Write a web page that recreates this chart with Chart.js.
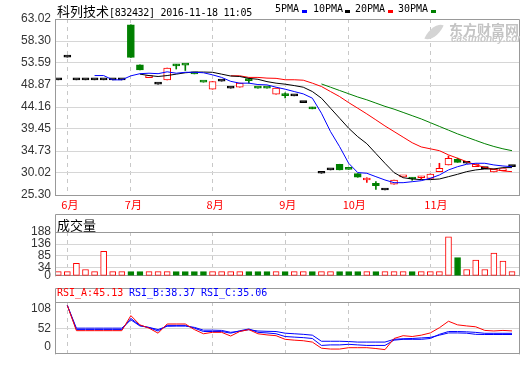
<!DOCTYPE html>
<html>
<head>
<meta charset="utf-8">
<script src="https://cdn.jsdelivr.net/npm/chart.js@4.4.0/dist/chart.umd.min.js"></script>
<style>
body { margin: 0; background: #fff; }
#box { position: relative; width: 520px; height: 365px; overflow: hidden; }
canvas { position: absolute; left: 0; }
.t { position: absolute; white-space: nowrap; line-height: 16px; }
.mono { font: 10px 'DejaVu Sans Mono', monospace; }
.cjk { font: 13px 'Noto Sans CJK SC'; }
.sw { position: absolute; width: 5px; height: 3px; top: 10px; }
</style>
</head>
<body>
<div id="box">
  <canvas id="mainChart" width="520" height="214" style="top:0"></canvas>
  <canvas id="volChart" width="520" height="73" style="top:214px"></canvas>
  <canvas id="rsiChart" width="520" height="78" style="top:287px"></canvas>

  <div class="t" style="left:57px;top:1px"><span class="cjk">科列技术</span><span class="mono" style="letter-spacing:-0.3px">[832432] 2016-11-18 11:05</span></div>

  <div class="t mono" style="left:275px;top:3px">5PMA</div><div class="sw" style="left:302px;background:#00f"></div>
  <div class="t mono" style="left:313px;top:3px">10PMA</div><div class="sw" style="left:345px;background:#000"></div>
  <div class="t mono" style="left:355px;top:3px">20PMA</div><div class="sw" style="left:388px;background:#f00"></div>
  <div class="t mono" style="left:398px;top:3px">30PMA</div><div class="sw" style="left:431px;background:#008000"></div>

  <div style="position:absolute;left:428px;top:22px;width:12px;height:20px;background:#d4d4d4;border-radius:100% 0 100% 0;transform:rotate(25deg)"></div>
  <div class="t" style="left:449px;top:19px;font:bold 14px 'Noto Sans CJK SC';color:#c4c4c4">东方财富网</div>
  <div class="t" style="left:451px;top:33px;font:italic bold 10px 'Liberation Sans';color:#c8c8c8">eastmoney.com</div>

  <div class="t cjk" style="left:57px;top:215px">成交量</div>

  <div class="t mono" style="left:57px;top:287px;color:#f00">RSI_A:45.13</div>
  <div class="t mono" style="left:129px;top:287px;color:#00f">RSI_B:38.37</div>
  <div class="t mono" style="left:201px;top:287px;color:#00f">RSI_C:35.06</div>
</div>
<script>
// month axis
const monthStarts = [1, 8, 17, 25, 32, 41];
const monthNames = ['6月', '7月', '8月', '9月', '10月', '11月'];

// tick labels
const priceTicks = [25.30, 30.02, 34.73, 39.45, 44.16, 48.87, 53.59, 58.30, 63.02];
const volTicks = [0, 34, 85, 136, 188];
const rsiTicks = [0, 52, 108];

// daily candles
const open = [49.98, 54.85, 49.98, 49.98, 49.98, 49.98, 49.98, 49.98, 61.78, 53.20,
  50.46, 49.05, 49.98, 52.99, 53.14, 51.30, 49.50, 47.98, 49.70, 48.20,
  48.41, 49.84, 48.21, 48.21, 46.91, 46.62, 46.55, 45.10, 44.12, 29.96,
  30.67, 31.89, 30.82, 29.87, 28.51, 27.81, 26.37, 27.60, 29.19, 28.74,
  29.00, 28.88, 30.30, 31.74, 32.96, 32.10, 31.37, 30.95, 30.25, 30.54, 31.37];
const high = [49.98, 54.85, 49.98, 49.98, 49.98, 49.98, 49.98, 49.98, 61.78, 53.20,
  50.48, 49.05, 52.49, 53.30, 53.14, 51.30, 49.50, 49.62, 49.70, 48.20,
  49.27, 50.26, 48.21, 48.21, 48.20, 47.19, 46.55, 45.10, 44.12, 29.96,
  30.67, 31.89, 30.82, 29.87, 29.00, 28.15, 26.37, 28.52, 29.21, 29.00,
  29.30, 29.81, 32.10, 33.67, 33.20, 32.10, 31.95, 30.95, 30.88, 30.56, 31.37];
const low = [49.98, 54.85, 49.98, 49.98, 49.98, 49.98, 49.98, 49.98, 54.81, 52.13,
  50.46, 49.05, 49.98, 52.30, 51.98, 51.25, 49.48, 47.98, 49.70, 48.20,
  48.41, 49.27, 48.19, 48.19, 46.91, 46.12, 46.55, 45.10, 43.76, 29.96,
  30.67, 30.67, 30.80, 29.10, 28.00, 26.52, 26.37, 27.60, 29.19, 28.45,
  28.70, 28.88, 30.30, 31.74, 32.30, 32.10, 31.37, 30.95, 30.25, 30.54, 31.37];
const close = [49.98, 54.85, 49.98, 49.98, 49.98, 49.98, 49.98, 49.98, 54.81, 52.13,
  50.48, 49.05, 52.49, 52.97, 53.12, 51.25, 49.48, 49.62, 49.70, 48.20,
  49.27, 49.82, 48.19, 48.19, 48.20, 46.60, 46.55, 45.10, 43.76, 29.96,
  30.67, 30.67, 30.80, 29.10, 28.53, 27.30, 26.37, 28.52, 29.21, 28.72,
  29.02, 29.81, 31.03, 33.18, 32.30, 32.10, 31.95, 30.95, 30.88, 30.56, 31.37];

// moving averages
const ma5 = [null, null, null, null, 50.9, 50.9, 49.98, 49.98, 50.84, 51.3,
  51.4, 51.3, 51.7, 51.4, 51.6, 51.6, 51.5, 51.05, 50.5, 49.66,
  49.27, 49.27, 48.97, 48.9, 48.4, 47.98, 47.47, 46.97, 46.05, 42.83,
  38.89, 35.67, 32.1, 30.1, 29.96, 29.23, 28.52, 27.94, 27.94, 28.15,
  28.37, 28.88, 29.59, 30.67, 31.37, 31.89, 32.1, 32.1, 31.74, 31.52, 31.37];
const ma10 = [null, null, null, null, null, null, null, null, null, 51.2,
  50.9, 50.7, 50.9, 51.2, 51.5, 51.65, 51.65, 51.6, 51.2, 50.8,
  50.7, 50.3, 50.1, 49.6, 49.27, 49.05, 48.75, 48.4, 47.47, 46.05,
  43.9, 41.76, 39.61, 37.8, 36.3, 34.2, 32.1, 30.1, 29.01, 28.73,
  28.6, 28.6, 28.73, 29.23, 29.74, 30.3, 30.67, 30.88, 30.88, 31.17, 31.17];
const ma20 = [null, null, null, null, null, null, null, null, null, null,
  null, null, null, null, null, null, null, null, null, 50.85,
  50.85, 50.5, 50.5, 50.35, 50.3, 50.0, 50.0, 49.9, 49.27, 48.55,
  47.47, 46.4, 45.1, 43.9, 42.68, 41.4, 40.1, 38.9, 37.7, 36.5,
  35.6, 35.2, 34.8, 33.9, 33.18, 32.45, 31.74, 31.24, 30.8, 30.45, 30.3];
const ma30 = [null, null, null, null, null, null, null, null, null, null,
  null, null, null, null, null, null, null, null, null, null,
  null, null, null, null, null, null, null, null, null, 49.1,
  48.4, 47.7, 47.0, 46.3, 45.7, 45.0, 44.3, 43.7, 43.0, 42.3,
  41.6, 40.8, 40.0, 39.2, 38.4, 37.7, 37.0, 36.3, 35.7, 35.2, 34.8];

// volume
const volume = [18, 18, 54, 27, 18, 105, 18, 18, 18, 18,
  18, 18, 18, 18, 18, 18, 18, 18, 18, 18,
  18, 18, 18, 18, 18, 18, 18, 18, 18, 18,
  18, 18, 18, 18, 18, 18, 18, 18, 18, 18,
  18, 18, 18, 167, 78, 27, 67, 27, 98, 63, 18];

// RSI
const rsiA = [null, 116, 45.8, 45.8, 45.8, 45.8, 45.8, 45.8, 87.7, 62,
  52.8, 38.8, 64.4, 64.4, 64.4, 48.8, 37.2, 41.2, 41.2, 30.9,
  43.5, 48.8, 37.2, 34, 31.8, 21.7, 19.4, 17.8, 14, -3,
  -5.4, -5.4, -1.6, -1.6, -1.6, -3.9, -7, 24, 31.8, 29.5,
  33.3, 39.5, 54, 72, 62, 59, 56.6, 46.5, 45, 46.5, 45.13];
const rsiB = [null, 116, 48.8, 48.8, 48.8, 48.8, 48.8, 48.8, 79.8, 60.5,
  54.2, 44.9, 60.5, 60.5, 60.5, 52.8, 43.5, 43.5, 43.5, 38.8,
  45.5, 50.5, 41.2, 39.5, 37.2, 29.5, 27.9, 26.4, 24, 4.7,
  6.2, 6.2, 7.8, 6.2, 4.7, 4.7, 4.7, 19.4, 21.7, 21.7,
  21.7, 24, 35.6, 43.4, 43.4, 42.6, 41, 38.4, 38.4, 38.4, 38.37];
const rsiC = [null, 116, 52.8, 52.8, 52.8, 52.8, 52.8, 52.8, 76, 58.8,
  55, 48.8, 58, 58.5, 58.5, 55, 47.2, 47.2, 46.5, 41.2,
  44.2, 48.5, 44.9, 44, 43.4, 38.8, 37.2, 35.6, 33.3, 16.3,
  16.3, 16.3, 15.5, 14, 14, 14, 14, 21.7, 23.3, 24,
  25.6, 27.1, 33.3, 39.5, 39.5, 38.8, 35.6, 35.1, 35.1, 35.1, 35.06];

const RED = '#ff0000', GREEN = '#008000', BLUE = '#0000ff', BLACK = '#000000';
const X_MIN = -0.36, X_MAX = 50.77;

const pts = arr => arr.map((v, i) => ({ x: i, y: v }));
const candleColor = i => close[i] > open[i] ? RED : (close[i] < open[i] ? GREEN : BLACK);
const volUp = i => close[i] >= open[i];

// border box around each panel
const framePlugin = {
  id: 'frame',
  afterDraw(chart, args, opts) {
    const { ctx, chartArea: a } = chart;
    const top = opts.top !== undefined ? opts.top : a.top;
    ctx.save();
    ctx.strokeStyle = '#999';
    ctx.lineWidth = 1;
    ctx.beginPath();
    ctx.moveTo(a.left + 0.5, a.bottom + 0.5);
    ctx.lineTo(a.left + 0.5, top + 0.5);
    ctx.lineTo(a.right + 0.5, top + 0.5);
    ctx.lineTo(a.right + 0.5, a.bottom + 0.5);
    if (opts.header) {
      ctx.moveTo(a.left + 0.5, a.top + 0.5);
      ctx.lineTo(a.right + 0.5, a.top + 0.5);
    }
    ctx.stroke();
    ctx.restore();
  }
};

function yAxis(min, max, ticks, fmt, gridColor) {
  return {
    position: 'left', min: min, max: max, beginAtZero: false,
    afterFit: s => { s.width = 55; },
    afterBuildTicks: s => { s.ticks = ticks.map(v => ({ value: v })); },
    ticks: { color: '#333', font: { family: 'Liberation Sans', size: 12 }, padding: 4, autoSkip: false, callback: fmt },
    grid: { color: gridColor || '#d6d6d6', drawTicks: false },
    border: { color: '#999' }
  };
}

function xAxis(h, showLabels) {
  return {
    type: 'linear', min: X_MIN, max: X_MAX, offset: false,
    afterFit: s => { s.height = h; },
    afterBuildTicks: s => { s.ticks = monthStarts.map(v => ({ value: v })); },
    ticks: {
      display: showLabels, color: RED, font: { family: 'Noto Sans CJK SC', size: 11 },
      padding: 3, align: 'start', labelOffset: -6, maxRotation: 0, autoSkip: false,
      callback: v => monthNames[monthStarts.indexOf(v)]
    },
    grid: { color: '#c8c8c8', drawTicks: false, offset: false },
    border: { color: '#999', dash: [4, 4] }
  };
}

const common = {
  responsive: false,
  animation: false,
  events: [],
  plugins: { legend: { display: false }, tooltip: { enabled: false } }
};

// price chart
new Chart(document.getElementById('mainChart'), {
  type: 'bar',
  data: {
    datasets: [
      { type: 'line', data: pts(ma5), borderColor: BLUE, borderWidth: 1, pointRadius: 0, order: 0 },
      { type: 'line', data: pts(ma10), borderColor: BLACK, borderWidth: 1, pointRadius: 0, order: 0 },
      { type: 'line', data: pts(ma20), borderColor: RED, borderWidth: 1, pointRadius: 0, order: 0 },
      { type: 'line', data: pts(ma30), borderColor: GREEN, borderWidth: 1, pointRadius: 0, order: 0 },
      {
        data: open.map((o, i) => ({ x: i, y: [o, close[i]] })),
        grouped: false, barThickness: 7, minBarLength: 2, borderWidth: 1, borderSkipped: false,
        borderColor: c => candleColor(c.dataIndex),
        backgroundColor: c => close[c.dataIndex] > open[c.dataIndex] ? '#ffffff' : candleColor(c.dataIndex),
        order: 1
      },
      {
        data: low.map((l, i) => ({ x: i, y: [l, high[i]] })),
        grouped: false, barThickness: 1, borderWidth: 0,
        backgroundColor: c => candleColor(c.dataIndex),
        order: 2
      }
    ]
  },
  options: Object.assign({}, common, {
    layout: { padding: { top: 19, right: 1, left: 0, bottom: 0 } },
    plugins: Object.assign({}, common.plugins, { frame: {} }),
    scales: {
      x: xAxis(19, true),
      y: yAxis(25.30, 63.02, priceTicks, v => v.toFixed(2))
    }
  }),
  plugins: [framePlugin]
});

// volume chart
new Chart(document.getElementById('volChart'), {
  type: 'bar',
  data: {
    datasets: [{
      data: pts(volume),
      barThickness: 6, borderWidth: 1, borderSkipped: false,
      borderColor: c => volUp(c.dataIndex) ? RED : GREEN,
      backgroundColor: c => volUp(c.dataIndex) ? '#ffffff' : GREEN
    }]
  },
  options: Object.assign({}, common, {
    layout: { padding: { top: 18, right: 1, left: 0, bottom: 7 } },
    plugins: Object.assign({}, common.plugins, { frame: { top: 0, header: true } }),
    scales: {
      x: xAxis(0, false),
      y: yAxis(0, 188, volTicks, v => String(v))
    }
  }),
  plugins: [framePlugin]
});

// RSI chart
new Chart(document.getElementById('rsiChart'), {
  type: 'line',
  data: {
    datasets: [
      { data: pts(rsiA), borderColor: RED, borderWidth: 1, pointRadius: 0 },
      { data: pts(rsiB), borderColor: BLUE, borderWidth: 1, pointRadius: 0 },
      { data: pts(rsiC), borderColor: BLUE, borderWidth: 1, pointRadius: 0 }
    ]
  },
  options: Object.assign({}, common, {
    layout: { padding: { top: 15, right: 1, left: 0, bottom: 1 } },
    plugins: Object.assign({}, common.plugins, { frame: { top: 1, header: true } }),
    scales: {
      x: xAxis(0, false),
      y: yAxis(-18.6, 125.6, rsiTicks, v => String(v),
        c => (c.tick && c.tick.value === 52) ? '#d6d6d6' : 'rgba(0,0,0,0)')
    }
  }),
  plugins: [framePlugin]
});
</script>
</body>
</html>
